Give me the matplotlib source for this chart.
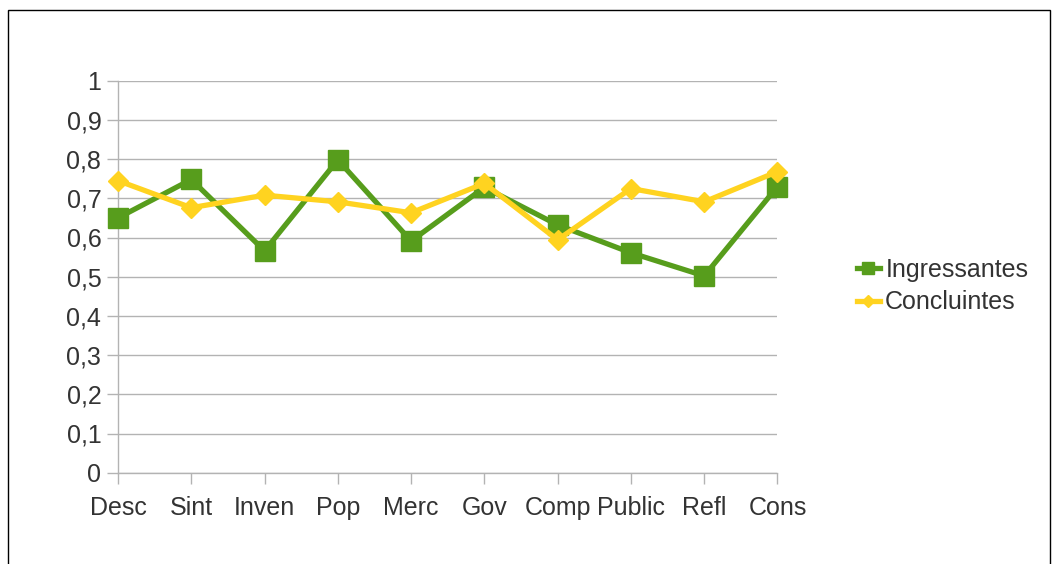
import matplotlib
matplotlib.use("Agg")
import matplotlib.pyplot as plt
from matplotlib.patches import Rectangle

categories = ["Desc", "Sint", "Inven", "Pop", "Merc", "Gov", "Comp", "Public", "Refl", "Cons"]
ingressantes = [0.650, 0.748, 0.566, 0.798, 0.591, 0.728, 0.632, 0.561, 0.502, 0.730]
concluintes = [0.745, 0.676, 0.708, 0.691, 0.663, 0.738, 0.594, 0.725, 0.691, 0.768]
yticks = [0, 0.1, 0.2, 0.3, 0.4, 0.5, 0.6, 0.7, 0.8, 0.9, 1]
ylabels = ["0", "0,1", "0,2", "0,3", "0,4", "0,5", "0,6", "0,7", "0,8", "0,9", "1"]

plt.rcParams['font.family'] = ['Liberation Sans', 'DejaVu Sans']
txt = "#333333"
grid = "#b3b3b3"
fs = 18

fig = plt.figure(figsize=(10.53, 5.64), dpi=100)
ax = fig.add_axes([118/1053, 1-472.7/564, (777.5-118)/1053, (472.7-80.7)/564])

x = list(range(len(categories)))
ax.plot(x, ingressantes, color="#579d1c", lw=3.8, marker="s", ms=14, label="Ingressantes",
        zorder=3, clip_on=False)
ax.plot(x, concluintes, color="#ffd320", lw=3.8, marker="D", ms=10, label="Concluintes",
        zorder=4, clip_on=False)

ax.set_xlim(0, len(categories)-1)
ax.set_ylim(0, 1)
ax.set_xticks(x)
ax.set_xticklabels(categories)
ax.set_yticks(yticks)
ax.set_yticklabels(ylabels)
ax.yaxis.grid(True, color=grid, lw=1)
ax.set_axisbelow(True)
for s in ["top", "right"]:
    ax.spines[s].set_visible(False)
for s in ["left", "bottom"]:
    ax.spines[s].set_color(grid)
    ax.spines[s].set_linewidth(1)
ax.tick_params(axis="both", colors=grid, labelcolor=txt, labelsize=fs, length=8, width=1)
ax.tick_params(axis="x", pad=9)
ax.tick_params(axis="y", pad=4)

leg = fig.legend(loc="center left", bbox_to_anchor=(834/1053, 1-286/564), frameon=False,
                 fontsize=fs, handlelength=0.95, handletextpad=0.2, labelspacing=0.35,
                 labelcolor=txt, markerscale=0.6)

fig.patches.append(Rectangle((8/1053, -0.05), (1050-8)/1053, 1.05-10/564, transform=fig.transFigure,
                             fill=False, edgecolor="black", lw=1))
fig.savefig("out.png", dpi=100)
